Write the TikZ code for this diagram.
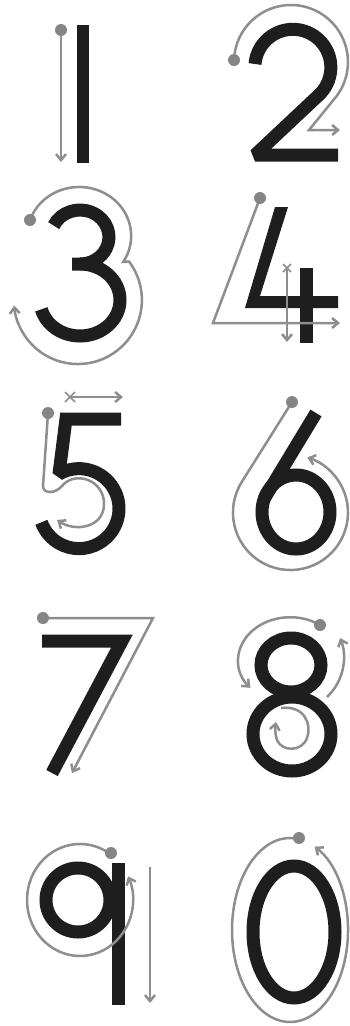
\documentclass[tikz,border=0pt]{standalone}
\usetikzlibrary{arrows.meta}
\definecolor{ink}{HTML}{1E1E1E}
\definecolor{guidegray}{HTML}{8E8E8E}
\definecolor{dotgray}{HTML}{858585}
\begin{document}
\begin{tikzpicture}[x=1pt,y=-1pt,
  digit/.style={draw=ink,line width=13pt,line join=miter,miter limit=2},
  guide/.style={draw=guidegray,line width=2.5pt},
  tip/.style={-{Straight Barb[length=6pt,width=10pt]}},
  cross/.style={draw=guidegray,line width=1.5pt},
  startdot/.style={fill=dotgray}]
\fill[white] (0,0) rectangle (350,1026);
\useasboundingbox (0,0) rectangle (350,1026);
% ---- 1
\fill[ink] (77,25) rectangle (89,163);
\draw[guide,tip] (61,30) -- (61,162);
\fill[startdot] (61,30) circle[radius=6];
% ---- 2
\draw[digit] (255,64) arc[start angle=185,end angle=407,radius=38] -- (255,155) -- (338,155);
\draw[guide,tip] (234,60) arc[start angle=182,end angle=397,radius=57] -- (309,130) -- (340,130);
\fill[startdot] (234,60) circle[radius=6];
% ---- 3
\draw[digit] (53.7,225.6) arc[start angle=205,end angle=450,x radius=29,y radius=27];
\draw[digit] (72,264) -- (80,264) arc[start angle=270,end angle=525,x radius=40,y radius=36];
\draw[guide,tip] (30,220) arc[start angle=199,end angle=392,x radius=52,y radius=49] -- (129,261.5) arc[start angle=-37,end angle=175,radius=64];
\fill[startdot] (30,220) circle[radius=6];
% ---- 4
\fill[ink] (275,207) -- (288,207) -- (260,296) -- (338,296) -- (338,308) -- (245,308) -- cycle;
\draw[digit] (306,268) -- (306,343);
\draw[guide,tip] (260,198) -- (213,323) -- (340,323);
\fill[startdot] (260,198) circle[radius=6];
\draw[cross] (283,264) -- (291,272) (283,272) -- (291,264);
\draw[guide,tip] (287,268) -- (287,342);
% ---- 5
\draw[cross] (65,392) -- (75,402) (65,402) -- (75,392);
\draw[guide,tip] (70,397) -- (123,397);
\draw[digit] (121,419) -- (66,419) -- (59,474) arc[start angle=240,end angle=520,radius=40];
\draw[guide,tip] (48,413) -- (43,486) .. controls (43,494) and (55,494) .. (62,486) .. controls (75,470) and (105,480) .. (104,505) .. controls (103,528) and (75,532) .. (57,520);
\fill[startdot] (48,413) circle[radius=6];
% ---- 6
\draw[digit] (316,413) -- (264,499);
\draw[digit] (296,512) ellipse[x radius=34,y radius=37];
\draw[guide,tip] (292,402) -- (241.8,481.9) arc[start angle=212.2,end angle=-73,radius=57.5];
\fill[startdot] (292,402) circle[radius=6];
% ---- 7
\draw[digit] (42,641) -- (122,641) -- (52,773);
\draw[guide,tip] (43,618) -- (153,618) -- (72,773);
\fill[startdot] (43,618) circle[radius=6];
% ---- 8
\draw[digit] (291,665) ellipse[x radius=30,y radius=27];
\draw[digit] (292,734) ellipse[x radius=39,y radius=37];
\draw[guide,tip] (320,625) arc[start angle=-55,end angle=-220,x radius=52,y radius=43];
\draw[guide,tip] (327,697) .. controls (345,680) and (347,655) .. (340,638);
\draw[guide,tip] (281,708) .. controls (305,705) and (312,725) .. (307,738) .. controls (302,752) and (282,752) .. (277,740) .. controls (275,734) and (275,728) .. (276,722);
\fill[startdot] (320,625) circle[radius=6];
% ---- 9
\draw[digit] (78,900) circle[radius=32];
\draw[digit] (118,863) -- (118,1005);
\draw[guide,tip] (110.4,854.1) arc[start angle=-55,end angle=-385,x radius=53,y radius=56];
\draw[guide,tip] (150,867) -- (150,1003);
\fill[startdot] (111,853) circle[radius=6];
% ---- 0
\draw[digit] (294,932) ellipse[x radius=41,y radius=66];
\draw[guide,tip] (298.1,838.9) arc[start angle=-82,end angle=-425,x radius=58,y radius=92];
\fill[startdot] (299,838) circle[radius=6];
\end{tikzpicture}
\end{document}
